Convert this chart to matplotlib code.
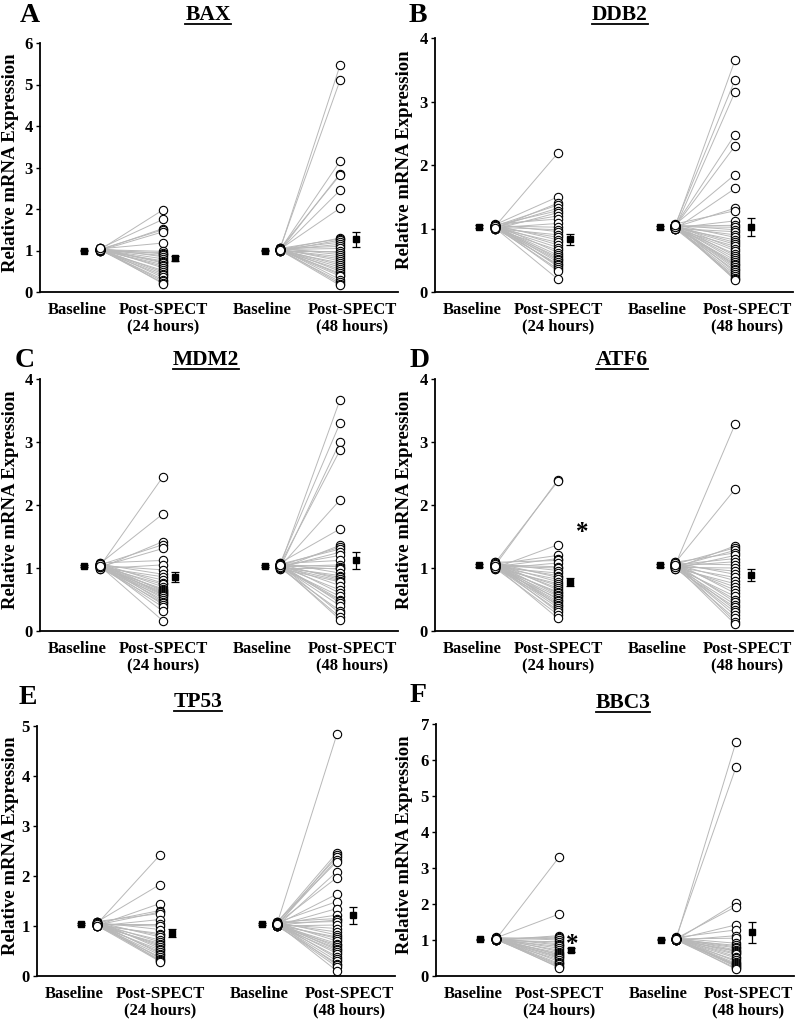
import matplotlib
matplotlib.use("Agg")
import matplotlib.pyplot as plt
from matplotlib.lines import Line2D

plt.rcParams['font.family'] = ['Liberation Serif', 'DejaVu Serif']
plt.rcParams['font.weight'] = 'bold'

W, H = 800, 1019

genes = ["BAX", "DDB2", "MDM2", "ATF6", "TP53", "BBC3"]
letters = ["A", "B", "C", "D", "E", "F"]
y_max = [6, 4, 4, 4, 5, 7]
xlabels = ["Baseline", "Post-SPECT\n(24 hours)", "Baseline", "Post-SPECT\n(48 hours)"]

# valores individuais (baseline -> pos-SPECT)
bax_base24 = [1.02, 1.05, 1.01, 1.03, 1.00, 1.04, 1.02, 0.99, 1.03, 1.01, 1.05, 1.02, 1.00, 1.04,
              1.03, 1.01, 1.02, 1.06, 0.99, 1.03, 1.02, 1.00, 1.04, 1.01, 1.03, 1.02, 1.05]
bax_post24 = [1.98, 1.75, 1.53, 1.50, 1.45, 1.18, 0.98, 0.95, 0.92, 0.88, 0.85, 0.80, 0.75, 0.72,
              0.70, 0.66, 0.62, 0.58, 0.52, 0.48, 0.44, 0.40, 0.35, 0.30, 0.26, 0.22, 0.20]
bax_base48 = [1.03, 1.05, 1.02, 1.00, 1.04, 1.01, 1.03, 1.02, 1.05, 0.99, 1.03, 1.01, 1.04, 1.02,
              1.00, 1.03, 1.05, 1.01, 1.02, 1.04, 0.99, 1.03, 1.02, 1.00, 1.05, 1.01, 1.03, 1.02,
              1.04, 1.00, 1.03, 1.01]
bax_post48 = [5.46, 5.10, 3.15, 2.85, 2.82, 2.45, 2.02, 1.30, 1.28, 1.25, 1.20, 1.15, 1.10, 1.05,
              1.00, 0.95, 0.90, 0.85, 0.80, 0.75, 0.70, 0.65, 0.60, 0.55, 0.50, 0.45, 0.42, 0.38,
              0.30, 0.25, 0.20, 0.16]

ddb2_base24 = [1.03, 1.06, 1.00, 1.04, 1.02, 1.05, 0.99, 1.03, 1.07, 1.01, 1.04, 1.02, 1.06, 1.00,
               1.03, 1.05, 1.01, 1.04, 1.02, 0.99, 1.06, 1.03, 1.01, 1.05, 1.02, 1.04, 1.00, 1.03,
               1.06, 1.02, 1.04, 1.01]
ddb2_post24 = [2.19, 1.50, 1.40, 1.37, 1.32, 1.28, 1.25, 1.20, 1.15, 1.08, 1.02, 0.98, 0.95, 0.90,
               0.86, 0.82, 0.78, 0.74, 0.70, 0.66, 0.62, 0.58, 0.55, 0.52, 0.50, 0.47, 0.44, 0.42,
               0.40, 0.36, 0.33, 0.20]
ddb2_base48 = [1.02, 1.05, 1.00, 1.04, 1.03, 1.06, 0.99, 1.02, 1.07, 1.01, 1.04, 1.03, 1.05, 1.00,
               1.02, 1.06, 1.01, 1.04, 1.03, 0.99, 1.05, 1.02, 1.01, 1.06, 1.03, 1.04, 1.00, 1.02,
               1.05, 1.03, 1.04, 1.01, 1.06, 1.02, 1.00, 1.04, 1.03, 1.05]
ddb2_post48 = [3.65, 3.34, 3.15, 2.48, 2.30, 1.85, 1.63, 1.32, 1.28, 1.12, 1.05, 1.02, 0.98, 0.95,
               0.90, 0.86, 0.82, 0.78, 0.75, 0.72, 0.68, 0.65, 0.60, 0.57, 0.54, 0.50, 0.47, 0.44,
               0.42, 0.40, 0.37, 0.34, 0.31, 0.28, 0.25, 0.22, 0.20, 0.19]

mdm2_base24 = [1.03, 1.07, 1.00, 1.05, 1.02, 1.08, 0.99, 1.04, 1.06, 1.01, 1.03, 1.07, 1.02, 1.05,
               1.00, 1.04, 1.08, 1.01, 1.03, 1.06, 1.02, 0.99, 1.05, 1.03, 1.07, 1.01, 1.04, 1.02,
               1.06, 1.03]
mdm2_post24 = [2.45, 1.86, 1.42, 1.37, 1.31, 1.12, 1.05, 0.97, 0.90, 0.86, 0.81, 0.76, 0.74, 0.70,
               0.67, 0.65, 0.63, 0.62, 0.60, 0.58, 0.57, 0.55, 0.52, 0.49, 0.46, 0.44, 0.42, 0.38,
               0.31, 0.16]
mdm2_base48 = [1.03, 1.07, 1.00, 1.05, 1.02, 1.08, 0.99, 1.04, 1.06, 1.01, 1.03, 1.07, 1.02, 1.05,
               1.00, 1.04, 1.08, 1.01, 1.03, 1.06, 1.02, 0.99, 1.05, 1.03, 1.07, 1.01, 1.04, 1.02,
               1.06, 1.03, 1.00, 1.05, 1.02, 1.04]
mdm2_post48 = [3.67, 3.30, 3.00, 2.87, 2.08, 1.62, 1.36, 1.33, 1.30, 1.25, 1.20, 1.12, 1.05, 1.02,
               1.00, 0.98, 0.92, 0.88, 0.85, 0.82, 0.80, 0.78, 0.72, 0.65, 0.60, 0.55, 0.50, 0.48,
               0.45, 0.40, 0.32, 0.28, 0.22, 0.18]

atf6_base24 = [1.04, 1.08, 1.00, 1.06, 1.02, 1.09, 0.99, 1.05, 1.03, 1.07, 1.01, 1.04, 1.08, 1.02,
               1.06, 1.00, 1.03, 1.05, 1.09, 1.01, 1.04, 1.07, 1.02, 0.99, 1.06, 1.03, 1.05, 1.01,
               1.08, 1.04, 1.02, 1.06, 1.00, 1.03]
atf6_post24 = [2.40, 2.38, 1.37, 1.20, 1.15, 1.12, 1.08, 1.02, 1.00, 0.96, 0.92, 0.88, 0.85, 0.82,
               0.78, 0.75, 0.72, 0.68, 0.65, 0.62, 0.60, 0.57, 0.55, 0.52, 0.50, 0.47, 0.44, 0.42,
               0.40, 0.37, 0.33, 0.30, 0.26, 0.20]
atf6_base48 = [1.04, 1.08, 1.00, 1.06, 1.02, 1.09, 0.99, 1.05, 1.03, 1.07, 1.01, 1.04, 1.08, 1.02,
               1.06, 1.00, 1.03, 1.05, 1.09, 1.01, 1.04, 1.07, 1.02, 0.99, 1.06, 1.03, 1.05, 1.01,
               1.08, 1.04]
atf6_post48 = [3.28, 2.25, 1.35, 1.32, 1.28, 1.24, 1.20, 1.15, 1.10, 1.05, 1.00, 0.95, 0.90, 0.85,
               0.80, 0.75, 0.70, 0.65, 0.60, 0.55, 0.50, 0.46, 0.42, 0.38, 0.34, 0.30, 0.25, 0.20,
               0.15, 0.11]

tp53_base24 = [1.04, 1.08, 1.01, 1.06, 1.02, 1.09, 1.00, 1.05, 1.03, 1.07, 1.01, 1.04, 1.08, 1.02,
               1.06, 1.00, 1.03, 1.05, 1.09, 1.01, 1.04, 1.07, 1.02, 1.00, 1.06, 1.03, 1.05, 1.01]
tp53_post24 = [2.42, 1.83, 1.45, 1.31, 1.28, 1.25, 1.13, 1.05, 1.00, 0.93, 0.85, 0.82, 0.78, 0.72,
               0.68, 0.65, 0.62, 0.59, 0.55, 0.52, 0.48, 0.45, 0.42, 0.38, 0.35, 0.32, 0.30, 0.29]
tp53_base48 = [1.04, 1.07, 1.01, 1.06, 1.02, 1.08, 1.00, 1.05, 1.03, 1.07, 1.01, 1.04, 1.08, 1.02,
               1.06, 1.00, 1.03, 1.05, 1.08, 1.01, 1.04, 1.07, 1.02, 1.00, 1.06, 1.03, 1.05, 1.01,
               1.04, 1.02, 1.06, 1.03, 1.00, 1.05, 1.02, 1.04]
tp53_post48 = [4.84, 2.47, 2.42, 2.38, 2.33, 2.29, 2.09, 1.97, 1.64, 1.49, 1.35, 1.22, 1.15, 1.12,
               1.09, 1.02, 0.95, 0.88, 0.82, 0.78, 0.75, 0.70, 0.65, 0.62, 0.58, 0.55, 0.52, 0.49,
               0.45, 0.39, 0.35, 0.30, 0.25, 0.22, 0.18, 0.10]

bbc3_base24 = [1.02, 1.06, 1.00, 1.04, 1.01, 1.07, 0.99, 1.03, 1.05, 1.01, 1.04, 1.02, 1.06, 1.00,
               1.03, 1.05, 1.01, 1.04, 1.02, 0.99, 1.06, 1.03, 1.01, 1.05, 1.02, 1.04]
bbc3_post24 = [3.30, 1.72, 1.12, 1.08, 1.05, 1.00, 0.95, 0.90, 0.86, 0.82, 0.77, 0.72, 0.68, 0.64,
               0.60, 0.58, 0.55, 0.52, 0.49, 0.45, 0.40, 0.35, 0.32, 0.28, 0.25, 0.23]
bbc3_base48 = [1.01, 1.06, 1.00, 1.04, 1.02, 1.07, 0.99, 1.03, 1.05, 1.01, 1.04, 1.02, 1.06, 1.00,
               1.03, 1.05, 1.01, 1.04, 1.02, 0.99, 1.06, 1.03, 1.01, 1.05, 1.02, 1.04, 1.00, 1.03]
bbc3_post48 = [6.50, 5.80, 2.02, 1.93, 1.42, 1.28, 1.12, 1.05, 0.91, 0.85, 0.81, 0.78, 0.72, 0.70,
               0.68, 0.63, 0.60, 0.54, 0.50, 0.44, 0.40, 0.35, 0.32, 0.30, 0.28, 0.26, 0.22, 0.19]

# medias +/- EPM: baseline 24h, pos 24h, baseline 48h, pos 48h
bax_mean = [1.00, 0.81, 1.00, 1.27]
bax_sem = [0.02, 0.06, 0.02, 0.18]
ddb2_mean = [1.03, 0.83, 1.02, 1.02]
ddb2_sem = [0.02, 0.09, 0.02, 0.14]
mdm2_mean = [1.03, 0.85, 1.03, 1.12]
mdm2_sem = [0.02, 0.08, 0.02, 0.13]
atf6_mean = [1.04, 0.78, 1.04, 0.89]
atf6_sem = [0.02, 0.06, 0.02, 0.09]
tp53_mean = [1.04, 0.87, 1.04, 1.22]
tp53_sem = [0.02, 0.08, 0.02, 0.17]
bbc3_mean = [1.02, 0.73, 1.01, 1.21]
bbc3_sem = [0.02, 0.05, 0.02, 0.28]

significant_24h = [False, False, False, True, False, True]

panels = [
    (bax_base24, bax_post24, bax_base48, bax_post48, bax_mean, bax_sem),
    (ddb2_base24, ddb2_post24, ddb2_base48, ddb2_post48, ddb2_mean, ddb2_sem),
    (mdm2_base24, mdm2_post24, mdm2_base48, mdm2_post48, mdm2_mean, mdm2_sem),
    (atf6_base24, atf6_post24, atf6_base48, atf6_post48, atf6_mean, atf6_sem),
    (tp53_base24, tp53_post24, tp53_base48, tp53_post48, tp53_mean, tp53_sem),
    (bbc3_base24, bbc3_post24, bbc3_base48, bbc3_post48, bbc3_mean, bbc3_sem),
]

# caixas dos eixos em pixels: esquerda, topo, direita, base
boxes = [(40, 43, 398, 292), (435, 38, 793, 292),
         (40, 379, 398, 631), (435, 379, 793, 631),
         (37, 726, 395, 976), (436, 724, 794, 976)]
title_pos = [(208, 15), (620, 15), (206, 360), (622, 360), (198, 702), (623, 703)]
letter_pos = [(30, 22), (418, 22), (25, 367), (420, 367), (28, 704), (418, 702)]
ylabel_right = [19, 413, 19, 413, 19, 413]
# deslocamento do asterisco (pixels) em relacao ao quadrado da media
star_off = [None, None, None, (12, 56), None, (1, 12)]

# posicoes em x (pixels a partir do eixo)
x_circ = [60, 123, 240, 300]
x_mean = [44, 135, 225, 316]
x_ticks = [37, 123, 222, 312]

fig = plt.figure(figsize=(W / 100, H / 100), dpi=100)

titles = []
for i, (b24, p24, b48, p48, mean, sem) in enumerate(panels):
    l, t, r, b = boxes[i]
    ax = fig.add_axes([l / W, 1 - b / H, (r - l) / W, (b - t) / H])
    ax.set_xlim(0, r - l)
    ax.set_ylim(0, y_max[i])

    for (base, post, xb, xp) in [(b24, p24, x_circ[0], x_circ[1]), (b48, p48, x_circ[2], x_circ[3])]:
        for vb, vp in zip(base, post):
            ax.plot([xb, xp], [vb, vp], color="#b8b8b8", lw=0.7, zorder=1)
        ax.plot([xb] * len(base), base, "o", ms=6, mfc="white", mec="black", mew=0.8, zorder=2)
        ax.plot([xp] * len(post), post, "o", ms=6, mfc="white", mec="black", mew=0.8, zorder=2)

    ax.errorbar(x_mean, mean, yerr=sem, fmt="s", ms=5, color="black", ecolor="black",
                elinewidth=0.9, capsize=3, capthick=0.9, zorder=3)

    if significant_24h[i]:
        dx, dy = star_off[i]
        # centro do glifo "*" fica ~0.54 em acima da linha de base
        ax.annotate("*", (x_mean[1], mean[1]), xytext=(dx * 0.72, dy * 0.72 - 0.54 * 18),
                    textcoords="offset points", fontsize=18, fontweight="bold",
                    ha="center", va="baseline")

    ax.set_yticks(range(0, y_max[i] + 1))
    ax.set_xticks(x_ticks)
    ax.set_xticklabels(xlabels, fontsize=12, fontweight="bold", linespacing=1.05)
    ax.tick_params(axis="x", length=0, pad=7)
    ax.tick_params(axis="y", length=3, width=1, pad=2, labelsize=12)
    for lab in ax.get_yticklabels():
        lab.set_fontweight("bold")
    for s in ["top", "right"]:
        ax.spines[s].set_visible(False)
    for s in ["left", "bottom"]:
        ax.spines[s].set_linewidth(1.3)
    ax.set_ylabel("Relative mRNA Expression", fontsize=13.5, fontweight="bold")
    ax.yaxis.set_label_coords((ylabel_right[i] - l) / (r - l), 0.52)

    tx, ty = title_pos[i]
    titles.append(fig.text(tx / W, 1 - ty / H, genes[i], fontsize=15.5, fontweight="bold",
                           ha="center", va="center"))
    lx, ly = letter_pos[i]
    fig.text(lx / W, 1 - ly / H, letters[i], fontsize=20, fontweight="bold",
             ha="center", va="baseline")

# sublinhado dos titulos
fig.canvas.draw()
renderer = fig.canvas.get_renderer()
for txt in titles:
    bb = txt.get_window_extent(renderer)
    y = bb.y0 + 1
    fig.add_artist(Line2D([bb.x0 / W, bb.x1 / W], [y / H, y / H], color="black", lw=1.3,
                          transform=fig.transFigure))

fig.savefig("out.png", dpi=100)
